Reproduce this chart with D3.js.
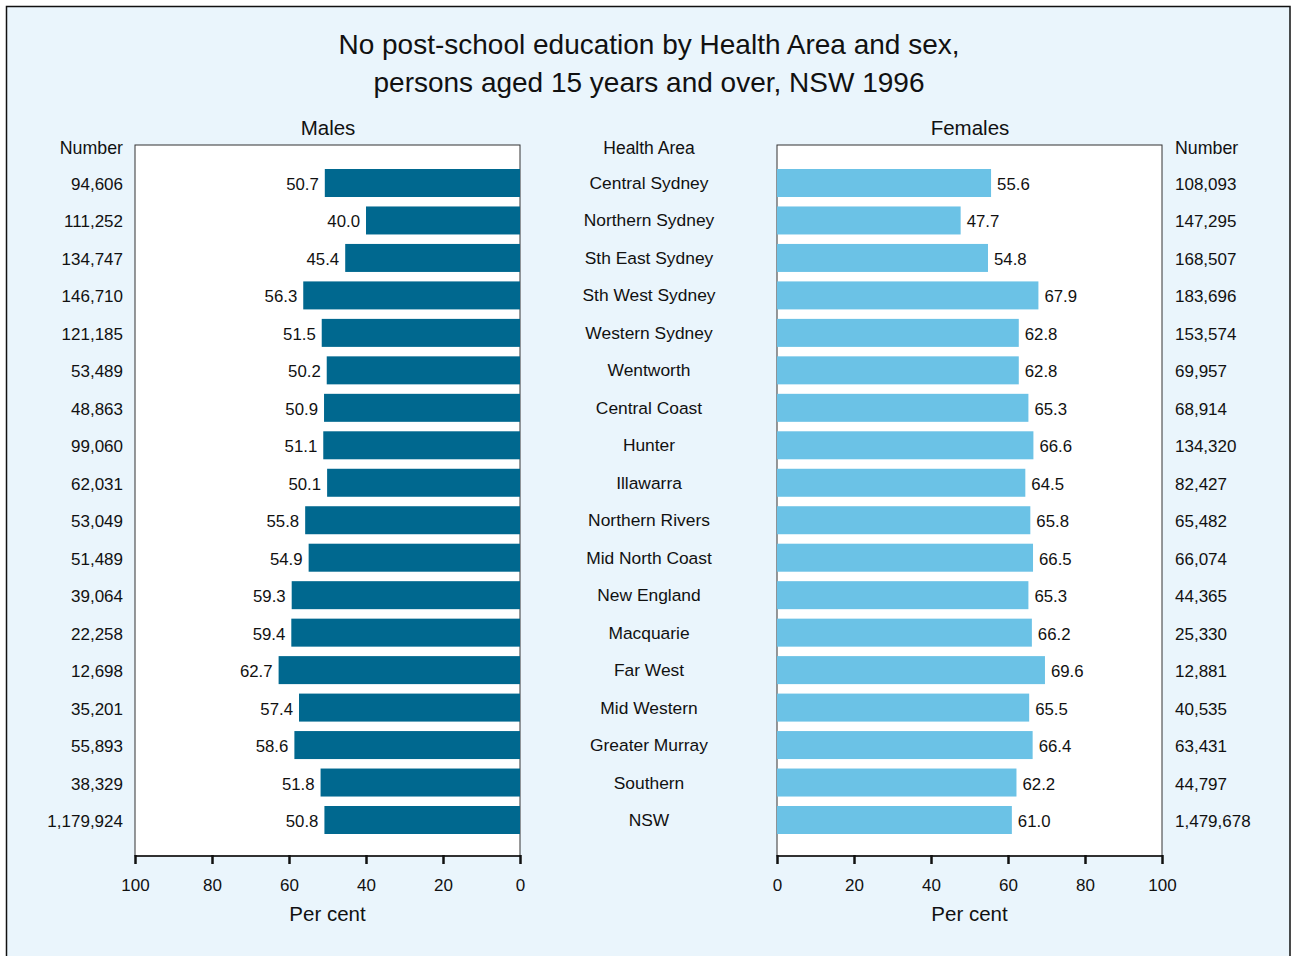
<!DOCTYPE html>
<html><head><meta charset="utf-8">
<script src="https://cdn.jsdelivr.net/npm/d3@7"></script>
<style>html,body{margin:0;padding:0;background:#fff;}svg{display:block;font-family:"Liberation Sans",Arial,Helvetica,sans-serif;}</style>
</head><body>
<svg id="c" width="1291" height="956"></svg>
<script>
const areas = ["Central Sydney","Northern Sydney","Sth East Sydney","Sth West Sydney","Western Sydney","Wentworth","Central Coast","Hunter","Illawarra","Northern Rivers","Mid North Coast","New England","Macquarie","Far West","Mid Western","Greater Murray","Southern","NSW"];
const malePct = [50.7,40.0,45.4,56.3,51.5,50.2,50.9,51.1,50.1,55.8,54.9,59.3,59.4,62.7,57.4,58.6,51.8,50.8];
const maleNum = ["94,606","111,252","134,747","146,710","121,185","53,489","48,863","99,060","62,031","53,049","51,489","39,064","22,258","12,698","35,201","55,893","38,329","1,179,924"];
const femalePct = [55.6,47.7,54.8,67.9,62.8,62.8,65.3,66.6,64.5,65.8,66.5,65.3,66.2,69.6,65.5,66.4,62.2,61.0];
const femaleNum = ["108,093","147,295","168,507","183,696","153,574","69,957","68,914","134,320","82,427","65,482","66,074","44,365","25,330","12,881","40,535","63,431","44,797","1,479,678"];
const ticks = [0,20,40,60,80,100];

const svg = d3.select("#c");
svg.append("rect").attr("x",6.5).attr("y",6.5).attr("width",1283.5).attr("height",960)
  .attr("fill","#EAF5FC").attr("stroke","#111").attr("stroke-width",1.5);

const plotTop = 145, plotBot = 856;
const y = d3.scalePoint().domain(areas).range([183, 820]);
const barH = 28;
const xL = d3.scaleLinear().domain([0,100]).range([520,135]);
const xR = d3.scaleLinear().domain([0,100]).range([777,1162]);

// title
const t = svg.append("text").attr("x",649).attr("text-anchor","middle").attr("font-size",28).attr("fill","#111");
t.append("tspan").attr("x",649).attr("y",54).text("No post-school education by Health Area and sex,");
t.append("tspan").attr("x",649).attr("y",92).text("persons aged 15 years and over, NSW 1996");

function panel(x, vals, color, side){
  const g = svg.append("g");
  const x0 = Math.min(x.range()[0], x.range()[1]), x1 = Math.max(x.range()[0], x.range()[1]);
  g.append("rect").attr("x",x0).attr("y",plotTop).attr("width",x1-x0).attr("height",plotBot-plotTop)
    .attr("fill","#fff").attr("stroke","#333").attr("stroke-width",1);
  g.selectAll("rect.bar").data(vals).join("rect").attr("class","bar")
    .attr("x",d=>Math.min(x(0),x(d))).attr("width",d=>Math.abs(x(d)-x(0)))
    .attr("y",(d,i)=>y(areas[i])-barH/2).attr("height",barH).attr("fill",color);
  g.selectAll("text.val").data(vals).join("text").attr("class","val")
    .attr("x",d=> side==="L" ? x(d)-6 : x(d)+6)
    .attr("y",(d,i)=>y(areas[i])+7)
    .attr("text-anchor", side==="L" ? "end" : "start")
    .attr("font-size",16.8).attr("fill","#111").text(d=>d.toFixed(1));
  const ax = g.append("g").attr("transform",`translate(0,${plotBot})`)
    .call(d3.axisBottom(x).tickValues(ticks).tickSize(8).tickPadding(15).tickFormat(d3.format("d")));
  ax.select(".domain").attr("stroke","#111").attr("stroke-width",1.5).attr("d",`M${x0},0H${x1}`);
  ax.selectAll(".tick line").attr("stroke","#111").attr("stroke-width",2.5).attr("y1",-1);
  ax.selectAll(".tick text").attr("font-size",17).attr("fill","#111").attr("font-family","Liberation Sans, Arial, sans-serif");
  g.append("text").attr("x",(x0+x1)/2).attr("y",921).attr("text-anchor","middle").attr("font-size",20.5).attr("fill","#111").text("Per cent");
}
panel(xL, malePct, "#00688F", "L");
panel(xR, femalePct, "#6BC2E6", "R");

svg.append("text").attr("x",328).attr("y",135).attr("text-anchor","middle").attr("font-size",20.5).attr("fill","#111").text("Males");
svg.append("text").attr("x",970).attr("y",135).attr("text-anchor","middle").attr("font-size",20.5).attr("fill","#111").text("Females");
svg.append("text").attr("x",649).attr("y",154).attr("text-anchor","middle").attr("font-size",17.5).attr("fill","#111").text("Health Area");
svg.append("text").attr("x",123).attr("y",154).attr("text-anchor","end").attr("font-size",17.8).attr("fill","#111").text("Number");
svg.append("text").attr("x",1175).attr("y",154).attr("text-anchor","start").attr("font-size",17.8).attr("fill","#111").text("Number");

svg.selectAll("text.area").data(areas).join("text").attr("class","area")
  .attr("x",649).attr("y",d=>y(d)+6).attr("text-anchor","middle").attr("font-size",17.4).attr("fill","#111").text(d=>d);
svg.selectAll("text.mn").data(maleNum).join("text").attr("class","mn")
  .attr("x",123).attr("y",(d,i)=>y(areas[i])+7).attr("text-anchor","end").attr("font-size",17).attr("fill","#111").text(d=>d);
svg.selectAll("text.fn").data(femaleNum).join("text").attr("class","fn")
  .attr("x",1175).attr("y",(d,i)=>y(areas[i])+7).attr("text-anchor","start").attr("font-size",17).attr("fill","#111").text(d=>d);
</script>
</body></html>
